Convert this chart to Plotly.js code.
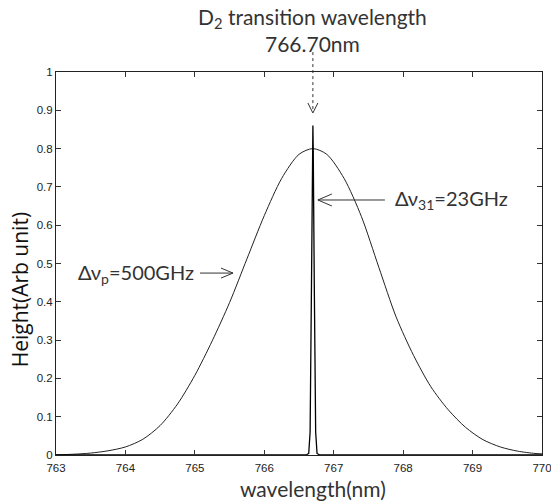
<!DOCTYPE html>
<html>
<head>
<meta charset="utf-8">
<script src="https://cdn.plot.ly/plotly-3.0.1.min.js"></script>
<style>html,body{margin:0;padding:0;background:#fff;}#chart{width:551px;height:501px;}</style>
</head>
<body>
<div id="chart"></div>
<script>
// Broad pump profile (Δνp = 500 GHz)
var broadX = [763.0, 763.25, 763.5, 763.75, 764.0, 764.25, 764.5, 764.75, 765.0, 765.25, 765.5, 765.75, 766.0, 766.25, 766.5, 766.7,
              766.9, 767.15, 767.4, 767.65, 767.9, 768.15, 768.4, 768.65, 768.9, 769.15, 769.4, 769.65, 769.9, 770.0];
var broadY = [0.0005, 0.002, 0.005, 0.011, 0.021, 0.041, 0.077, 0.133, 0.208, 0.298, 0.398, 0.512, 0.625, 0.722, 0.785, 0.800,
              0.785, 0.722, 0.622, 0.490, 0.360, 0.260, 0.178, 0.118, 0.072, 0.040, 0.021, 0.010, 0.004, 0.003];
// Narrow D2 line (Δν31 = 23 GHz)
var narrowX = [763.0, 766.60, 766.64, 766.66, 766.68, 766.695, 766.70, 766.705, 766.72, 766.74, 766.76, 766.80, 770.0];
var narrowY = [0, 0, 0.004, 0.06, 0.45, 0.80, 0.86, 0.80, 0.45, 0.06, 0.004, 0, 0];
var xTicks = [763, 764, 765, 766, 767, 768, 769, 770];
var yTicks = [0, 0.1, 0.2, 0.3, 0.4, 0.5, 0.6, 0.7, 0.8, 0.9, 1];
var yTickText = ['0', '0.1', '0.2', '0.3', '0.4', '0.5', '0.6', '0.7', '0.8', '0.9', '1'];
var peakWavelength = 766.70;

var annFont = {family: 'Lato, "Open Sans", sans-serif', size: 21, color: '#333'};
var tickFont = {family: '"Liberation Sans Narrow", "Liberation Sans", sans-serif', size: 11.5, color: '#222'};

var traces = [
  {x: broadX, y: broadY, type: 'scatter', mode: 'lines', line: {color: '#222', width: 1, shape: 'spline', smoothing: 0.8}, hoverinfo: 'skip'},
  {x: narrowX, y: narrowY, type: 'scatter', mode: 'lines', line: {color: '#000', width: 1.3}, hoverinfo: 'skip'}
];

var arrowColor = '#333';
var layout = {
  width: 551, height: 501,
  margin: {l: 56, r: 9, t: 72, b: 46},
  paper_bgcolor: '#fff', plot_bgcolor: '#fff',
  showlegend: false,
  xaxis: {range: [763, 770], tickvals: xTicks, ticktext: xTicks.map(String), ticks: 'inside', ticklen: 5, tickcolor: '#333',
          showline: true, linecolor: '#222', linewidth: 1, mirror: 'ticks', showgrid: false, zeroline: false, tickfont: tickFont,
          ticklabeloverflow: 'allow', ticklabelstandoff: 2, fixedrange: true},
  yaxis: {range: [0, 1], tickvals: yTicks, ticktext: yTickText, ticks: 'inside', ticklen: 5, tickcolor: '#333',
          showline: true, linecolor: '#222', linewidth: 1, mirror: 'ticks', showgrid: false, zeroline: false, tickfont: tickFont,
          ticklabeloverflow: 'allow', fixedrange: true},
  annotations: [
    {text: 'D<sub>2</sub> transition wavelength<br>766.70nm', x: peakWavelength, xref: 'x', y: 1.11, yref: 'paper',
     xanchor: 'center', yanchor: 'middle', showarrow: false, font: annFont},
    {text: 'Δν<sub>31</sub>=23GHz', x: peakWavelength, xref: 'x', xshift: 80, y: 0.6658, yref: 'paper',
     xanchor: 'left', yanchor: 'middle', showarrow: false, font: {family: annFont.family, size: 20, color: '#333'}},
    {text: 'Δν<sub>p</sub>=500GHz', x: 0.288, xref: 'paper', y: 0.475, yref: 'paper',
     xanchor: 'right', yanchor: 'middle', showarrow: false, font: {family: annFont.family, size: 20, color: '#333'}},
    {text: 'wavelength(nm)', x: 0.529, xref: 'paper', y: -0.087, yref: 'paper', xanchor: 'center', yanchor: 'middle',
     showarrow: false, font: annFont},
    {text: 'Height(Arb unit)', x: -0.074, xref: 'paper', y: 0.43, yref: 'paper', xanchor: 'center', yanchor: 'middle',
     textangle: -90, showarrow: false, font: {family: '"Open Sans", Lato, sans-serif', size: 21, color: '#111'}}
  ],
  shapes: [
    // dashed vertical arrow
    {type: 'line', xref: 'x', yref: 'paper', x0: peakWavelength, x1: peakWavelength, y0: 1.052, y1: 0.896,
     line: {color: arrowColor, width: 1, dash: 'dot'}},
    {type: 'path', xref: 'x', yref: 'paper', xsizemode: 'pixel', ysizemode: 'pixel', xanchor: peakWavelength, yanchor: 0.893,
     path: 'M -5,10 L 0,0 L 5,10', line: {color: arrowColor, width: 1}},
    // Δν31 arrow
    {type: 'path', xref: 'x', yref: 'paper', xsizemode: 'pixel', ysizemode: 'pixel', xanchor: peakWavelength, yanchor: 0.6658,
     path: 'M 5,0 L 72,0 M 19,6 L 5,0 L 19,-6', line: {color: arrowColor, width: 1}},
    // Δνp arrow
    {type: 'path', xref: 'paper', yref: 'paper', xsizemode: 'pixel', ysizemode: 'pixel', xanchor: 0.3642, yanchor: 0.475,
     path: 'M -33,0 L 0,0 M -12,5 L 0,0 L -12,-5', line: {color: arrowColor, width: 1}}
  ]
};
Plotly.newPlot('chart', traces, layout, {staticPlot: true, displayModeBar: false});
</script>
</body>
</html>
